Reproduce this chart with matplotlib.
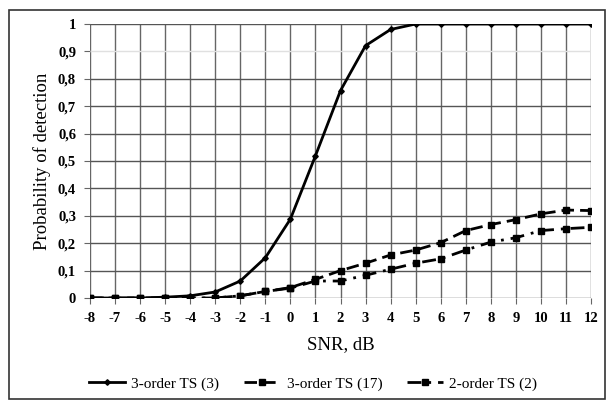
import matplotlib
matplotlib.use("Agg")
import matplotlib.pyplot as plt
from matplotlib.patches import Rectangle

snr = [-8, -7, -6, -5, -4, -3, -2, -1, 0, 1, 2, 3, 4, 5, 6, 7, 8, 9, 10, 11, 12]
ts3_3 = [0, 0, 0, 0.003, 0.008, 0.022, 0.062, 0.147, 0.288, 0.519, 0.757, 0.921, 0.98,
         1, 1, 1, 1, 1, 1, 1, 1]
ts3_17 = [0, 0, 0, 0, 0, 0, 0.008, 0.024, 0.038, 0.068, 0.1, 0.127, 0.157, 0.175,
          0.202, 0.246, 0.268, 0.286, 0.307, 0.321, 0.319]
ts2_2 = [0, 0, 0, 0, 0, 0, 0.008, 0.024, 0.036, 0.062, 0.062, 0.083, 0.105, 0.127,
         0.143, 0.175, 0.204, 0.22, 0.246, 0.253, 0.258]
labels = ["3-order TS (3)", "3-order TS (17)", "2-order TS (2)"]
yticks = [0, 0.1, 0.2, 0.3, 0.4, 0.5, 0.6, 0.7, 0.8, 0.9, 1.0]
ytick_labels = ["0", "0,1", "0,2", "0,3", "0,4", "0,5", "0,6", "0,7", "0,8", "0,9", "1"]

plt.rcParams['font.family'] = ['Liberation Serif', 'DejaVu Serif']

fig = plt.figure(figsize=(6.07, 4.01), dpi=100)
ax = fig.add_axes([90/607, 1-298/401, (591-90)/607, (298-24)/401])

# outer frame
fig.patches.append(Rectangle((9/607, 2/401), (605-9)/607, (391-2)/401,
                             transform=fig.transFigure, fill=False,
                             edgecolor="#333333", linewidth=1.2))

ax.plot(snr, ts3_3, color="black", lw=2.0, marker="D", markersize=2.8, label=labels[0], zorder=5)
ax.plot(snr, ts3_17, color="black", lw=2.0, linestyle=(0, (4.5, 2.2)), marker="s",
        markersize=4.5, label=labels[1], zorder=4)
ax.plot(snr, ts2_2, color="black", lw=2.0, linestyle=(0, (5, 2.5, 1, 2.5)), marker="s",
        markersize=4.0, label=labels[2], zorder=4)

ax.set_xlim(-8, 12)
ax.set_ylim(0, 1)
ax.set_xticks(snr)
ax.set_xticklabels([str(v) for v in snr])
ax.set_yticks(yticks)
ax.set_yticklabels(ytick_labels)

for v in snr:
    ax.axvline(v, color="#666666", lw=1.0, zorder=1)
for v in yticks:
    c = "#e0e0e0" if abs(v - 0.9) < 1e-9 else "#555555"
    ax.axhline(v, color=c, lw=1.0, zorder=1)

for s in ax.spines.values():
    s.set_visible(False)

ax.tick_params(axis="both", length=4, color="#666666", labelsize=10.5, pad=6)
for lab in ax.get_xticklabels() + ax.get_yticklabels():
    lab.set_fontweight("bold")

ax.set_xlabel("SNR, dB", fontsize=13.5, labelpad=8)
ax.set_ylabel("Probability of detection", fontsize=13.5, labelpad=5)

fig.legend(loc="center", bbox_to_anchor=(313/607, 1-384/401), ncol=3, frameon=False,
           fontsize=11, handlelength=2.4, columnspacing=1.6, handletextpad=0.4)

fig.savefig("out.png", dpi=100)
